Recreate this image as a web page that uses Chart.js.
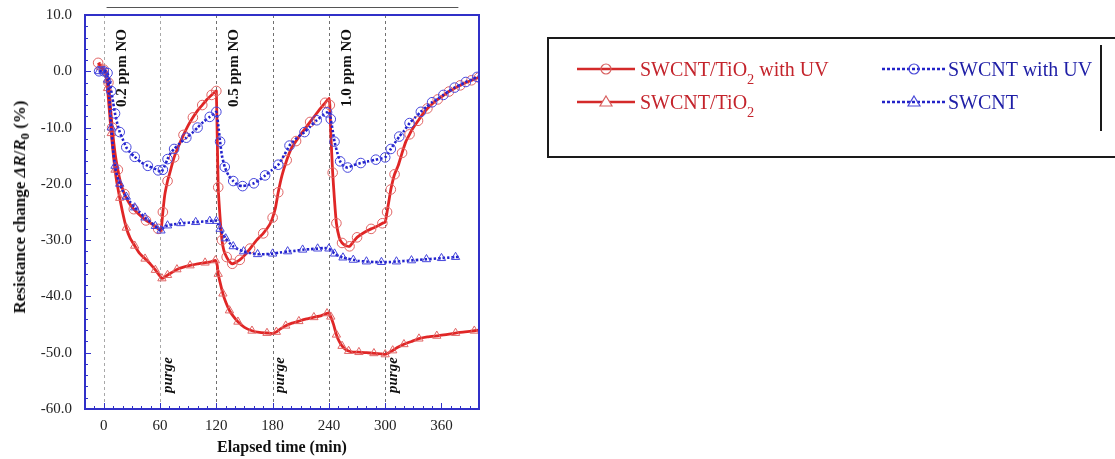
<!DOCTYPE html>
<html><head><meta charset="utf-8">
<script src="https://cdn.jsdelivr.net/npm/chart.js@4.4.1/dist/chart.umd.min.js"></script>
<style>
body{margin:0;background:#fff;}
#wrap{position:relative;width:1115px;height:459px;overflow:hidden;background:#fff;}
#c{position:absolute;left:0;top:0;}
#ytitle{position:absolute;left:20px;top:207px;transform:translate(-50%,-50%) rotate(-90deg);white-space:nowrap;font:bold 17px "Liberation Serif",serif;color:#111;}
#ytitle sub{font-size:0.75em;vertical-align:-0.3em;line-height:0;}
#legbox{position:absolute;left:547px;top:37px;width:600px;height:121px;border:2px solid #1a1a1a;box-sizing:border-box;}
#vbar{position:absolute;left:1100px;top:45px;width:2px;height:86px;background:#1a1a1a;}
.li{position:absolute;height:22px;white-space:nowrap;font:20px "Liberation Serif",serif;line-height:22px;}
.li sub{font-size:0.72em;vertical-align:-0.55em;line-height:0;}
.sw{position:absolute;}
</style>
</head><body>
<div id="wrap">
<canvas id="c" width="1115" height="459"></canvas>
<div id="ytitle">Resistance change <i>ΔR</i>/<i>R</i><sub>0</sub> (%)</div>
<div id="legbox"></div>
<div id="vbar"></div>
<svg class="sw" style="left:577px;top:59px" width="58" height="20"><line x1="0" y1="10" x2="58" y2="10" stroke="#d42a2a" stroke-width="2.5"/><circle cx="29" cy="10" r="5" fill="none" stroke="#d86060" stroke-width="1.2"/></svg>
<div class="li" style="left:640px;top:58px;color:#c4242c">SWCNT/TiO<sub>2</sub> with UV</div>
<svg class="sw" style="left:577px;top:92px" width="58" height="20"><line x1="0" y1="10" x2="58" y2="10" stroke="#d42a2a" stroke-width="2.5"/><polygon points="29,4 35,14 23,14" fill="#fff" stroke="#d86060" stroke-width="1.2"/></svg>
<div class="li" style="left:640px;top:91px;color:#c4242c">SWCNT/TiO<sub>2</sub></div>
<svg class="sw" style="left:882px;top:59px" width="64" height="20"><line x1="0" y1="10" x2="64" y2="10" stroke="#2323c8" stroke-width="2.5" stroke-dasharray="3,2"/><circle cx="32" cy="10" r="5" fill="none" stroke="#4a4ad8" stroke-width="1.2"/></svg>
<div class="li" style="left:948px;top:58px;color:#1e1ea6">SWCNT with UV</div>
<svg class="sw" style="left:882px;top:92px" width="64" height="20"><line x1="0" y1="10" x2="64" y2="10" stroke="#2323c8" stroke-width="2.5" stroke-dasharray="3,2"/><polygon points="32,4 38,14 26,14" fill="none" stroke="#4a4ad8" stroke-width="1.2"/></svg>
<div class="li" style="left:948px;top:91px;color:#1e1ea6">SWCNT</div>
</div>
<script>
// ---- data ----
const xTickValues = [0, 60, 120, 180, 240, 300, 360];
const yTickValues = [-60, -50, -40, -30, -20, -10, 0, 10];
const switchTimes = [0, 60, 120, 180, 240, 300];
const doseTimes = [0, 120, 240];
const doseLabels = ['0.2 ppm NO', '0.5 ppm NO', '1.0 ppm NO'];
const purgeTimes = [60, 180, 300];
const purgeLabel = 'purge';

const tTiO2UV = [-6,-3,0,3,5,7,9,12,15,18,22,27,32,38,45,52,58,61,63,65,68,70,75,80,85,90,95,100,105,110,115,119,120,121,122,124,126,128,131,134,137,140,145,150,156,163,170,177,180,183,186,190,195,200,205,210,220,230,236,240,241,242,244,246,248,251,254,258,262,266,270,278,285,292,297,300,302,304,306,308,310,314,318,322,326,330,335,340,345,350,356,362,368,374,380,386,392,398,400];
const vTiO2UV = [1.5,0.8,0.3,-0.2,-2,-6,-10,-14.5,-17.5,-19.8,-21.8,-23.4,-24.5,-25.5,-26.5,-27.2,-28,-28.3,-25,-22,-19.5,-18.3,-15.3,-13.2,-11.3,-9.6,-8.2,-7,-6,-5,-4.2,-3.6,-3.5,-12,-20.6,-26,-30,-31.8,-33,-33.8,-34.2,-34,-33.5,-32.7,-31.5,-30,-28.8,-27.2,-26,-24.3,-21.5,-18.5,-15.8,-13.7,-12.4,-11.2,-9,-6.8,-5.6,-4.8,-6,-11,-18,-23,-27,-29.5,-30.5,-31,-31.1,-30.3,-29.5,-28.6,-28,-27.5,-27,-26.8,-25,-23,-21,-19.5,-18.3,-16.7,-14.5,-12.5,-11.2,-10,-8.8,-7.6,-6.6,-5.8,-5,-4.3,-3.6,-3,-2.5,-2,-1.6,-1.2,-1.1];

const tTiO2 = [-4,-2,0,2,4,6,8,10,12,14,17,20,24,28,33,38,44,50,55,59,62,65,68,72,78,85,92,100,108,115,119,121,122,124,127,130,134,138,143,150,158,166,174,180,184,188,194,200,208,216,224,232,238,240,242,245,248,251,254,257,261,266,272,280,288,296,300,304,308,314,320,328,336,345,355,365,375,385,395,400];
const vTiO2 = [0.8,0.5,0.2,-0.5,-3,-7,-11,-14.5,-17.5,-19.8,-22.5,-25,-27.8,-29.6,-31,-32.3,-33.3,-34.3,-35.3,-36.2,-36.8,-36.6,-36.2,-35.8,-35.2,-34.8,-34.5,-34.2,-34,-33.8,-33.6,-34.5,-36,-37.5,-39.5,-41,-42.5,-43.5,-44.5,-45.5,-46.1,-46.4,-46.5,-46.6,-46.3,-45.8,-45.2,-44.8,-44.4,-44,-43.7,-43.4,-43,-42.9,-43.6,-45,-46.8,-48,-48.8,-49.3,-49.7,-49.9,-49.9,-50,-50.1,-50.2,-50.3,-50,-49.6,-49,-48.5,-48,-47.5,-47.2,-47,-46.8,-46.5,-46.3,-46.1,-46];

const tCNTUV = [-5,-2,0,2,4,6,8,10,12,14,17,20,24,28,33,40,47,54,58,61,63,65,68,71,75,81,88,94,100,106,113,118,120,122,124,126,129,133,138,143,148,154,160,166,172,179,186,192,198,206,214,220,227,233,238,240,242,244,246,249,252,256,260,266,274,282,290,296,300,303,306,310,315,320,326,332,338,344,350,356,362,368,374,380,386,392,398,400];
const vCNTUV = [0,0,0,0,-0.3,-1.5,-3.5,-5.5,-7.5,-9,-10.8,-12,-13.5,-14.4,-15.2,-16.2,-16.8,-17.3,-17.6,-17.9,-17.5,-16.8,-15.6,-14.6,-13.8,-12.8,-11.8,-11,-10,-9,-8.1,-7.5,-7.2,-9.5,-12.5,-15,-17,-18.5,-19.5,-20.2,-20.4,-20.2,-19.9,-19.3,-18.5,-17.6,-16.6,-15,-13.2,-11.8,-10.8,-9.8,-8.7,-7.9,-7.3,-7.1,-8.5,-10.5,-12.5,-14.5,-16,-16.9,-17.1,-16.7,-16.3,-16,-15.7,-15.5,-15.3,-14.6,-13.8,-12.8,-11.6,-10.6,-9.2,-8.2,-7.2,-6.3,-5.5,-4.9,-4.2,-3.5,-2.9,-2.4,-1.9,-1.5,-1,-0.9];

const tCNT = [-5,-2,0,2,4,6,8,10,12,14,17,20,24,28,33,38,44,50,55,59,61,64,68,75,82,90,98,106,113,118,120,122,124,127,130,134,138,143,149,156,164,172,180,188,196,204,212,220,228,235,240,243,246,250,255,260,266,272,280,288,296,304,312,320,328,336,344,352,360,368,375,380];
const vCNT = [0,0,0,-0.2,-1.5,-5,-10,-14,-16.8,-18.5,-20,-21.2,-22.3,-23.2,-24.2,-25,-26,-26.8,-27.5,-28.1,-28.3,-27.7,-27.4,-27.2,-27,-26.9,-26.8,-26.7,-26.6,-26.5,-26.6,-27.2,-28,-28.9,-29.7,-30.5,-31.1,-31.6,-32,-32.3,-32.5,-32.5,-32.4,-32.2,-32,-31.9,-31.7,-31.6,-31.5,-31.4,-31.5,-31.9,-32.4,-32.8,-33.1,-33.3,-33.5,-33.7,-33.8,-33.9,-33.9,-33.9,-33.8,-33.7,-33.6,-33.5,-33.4,-33.3,-33.2,-33.1,-33,-33];

// ---- styles ----
const RED = '#e02626', RED_M = '#e06464', BLUE = '#2222cc', BLUE_M = '#4646dc', AXIS = '#3030c8';
const SERIF = '"Liberation Serif", serif';
const pts = (t, v) => t.map((x, i) => ({x, y: v[i]}));
const mk = r => c => (c.index % 2 === 0 ? r : 0);

const datasets = [
  {label:'SWCNT with UV', data:pts(tCNTUV, vCNTUV), borderColor:BLUE, borderWidth:2.6, borderDash:[2.5,2], pointStyle:'circle', pointRadius:mk(4.8), pointBorderColor:BLUE_M, pointBorderWidth:1, pointBackgroundColor:'rgba(0,0,0,0)', tension:0.2},
  {label:'SWCNT', data:pts(tCNT, vCNT), borderColor:BLUE, borderWidth:2.6, borderDash:[2.5,2], pointStyle:'triangle', pointRadius:mk(4.8), pointBorderColor:BLUE_M, pointBorderWidth:1, pointBackgroundColor:'rgba(0,0,0,0)', tension:0.2},
  {label:'SWCNT/TiO2 with UV', data:pts(tTiO2UV, vTiO2UV), borderColor:RED, borderWidth:2.8, pointStyle:'circle', pointRadius:mk(4.8), pointBorderColor:RED_M, pointBorderWidth:1, pointBackgroundColor:'rgba(0,0,0,0)', tension:0.15},
  {label:'SWCNT/TiO2', data:pts(tTiO2, vTiO2), borderColor:RED, borderWidth:2.8, pointStyle:'triangle', pointRadius:mk(4.8), pointBorderColor:RED_M, pointBorderWidth:1, pointBackgroundColor:'rgba(0,0,0,0)', tension:0.15}
];

const deco = {
  id:'deco',
  beforeDatasetsDraw(chart){
    const {ctx, chartArea:a, scales:{x}} = chart;
    ctx.save();
    ctx.lineWidth = 1;
    ctx.setLineDash([3,3]);
    switchTimes.forEach(t => {
      const px = Math.round(x.getPixelForValue(t)) + 0.5;
      ctx.strokeStyle = (t === 0 || t === 60) ? '#a8a8a8' : '#707070';
      ctx.beginPath(); ctx.moveTo(px, a.top); ctx.lineTo(px, a.bottom); ctx.stroke();
    });
    ctx.restore();
  },
  afterDatasetsDraw(chart){
    const {ctx, chartArea:a, scales:{x, y}} = chart;
    ctx.save();
    ctx.strokeStyle = AXIS; ctx.lineWidth = 2; ctx.setLineDash([]);
    ctx.strokeRect(a.left, a.top, a.right - a.left, a.bottom - a.top);
    ctx.lineWidth = 1;
    ctx.beginPath();
    for (let t = -10; t <= 400; t += 10) {
      const px = Math.round(x.getPixelForValue(t)) + 0.5;
      const len = (t % 60 === 0) ? 6 : 3;
      ctx.moveTo(px, a.bottom); ctx.lineTo(px, a.bottom - len);
    }
    for (let v = -60; v <= 10; v += 2) {
      const py = Math.round(y.getPixelForValue(v)) + 0.5;
      const len = (v % 10 === 0) ? 6 : 3;
      ctx.moveTo(a.left, py); ctx.lineTo(a.left + len, py);
    }
    ctx.stroke();
    ctx.strokeStyle = '#555'; ctx.lineWidth = 1;
    ctx.beginPath();
    ctx.moveTo(x.getPixelForValue(3), a.top - 7.5); ctx.lineTo(x.getPixelForValue(378), a.top - 7.5);
    ctx.stroke();
    ctx.fillStyle = '#111';
    ctx.textBaseline = 'middle'; ctx.textAlign = 'left';
    ctx.font = 'bold 15px ' + SERIF;
    doseTimes.forEach((t, i) => {
      ctx.save();
      ctx.translate(x.getPixelForValue(t) + 18, a.top + 92);
      ctx.rotate(-Math.PI / 2);
      ctx.fillText(doseLabels[i], 0, 0);
      ctx.restore();
    });
    ctx.font = 'italic bold 15px ' + SERIF;
    purgeTimes.forEach(t => {
      ctx.save();
      ctx.translate(x.getPixelForValue(t) + 8, a.bottom - 16);
      ctx.rotate(-Math.PI / 2);
      ctx.fillText(purgeLabel, 0, 0);
      ctx.restore();
    });
    ctx.restore();
  }
};

new Chart(document.getElementById('c'), {
  type:'line',
  data:{datasets},
  plugins:[deco],
  options:{
    responsive:false, animation:false, devicePixelRatio:1,
    layout:{padding:{left:0, top:15, right:636, bottom:0}},
    plugins:{legend:{display:false}, tooltip:{enabled:false}},
    elements:{line:{fill:false}},
    scales:{
      x:{type:'linear', min:-20, max:400,
        afterBuildTicks:s => { s.ticks = xTickValues.map(v => ({value:v})); },
        afterFit:s => { s.height = 50; s.paddingLeft = 0; s.paddingRight = 0; },
        grid:{display:false, drawTicks:false}, border:{display:false},
        ticks:{padding:8, color:'#222', font:{family:SERIF, size:15}, maxRotation:0, autoSkip:false, callback:v => String(v)},
        title:{display:true, text:'Elapsed time (min)', color:'#111', font:{family:SERIF, size:16, weight:'bold', lineHeight:1.2}, padding:{top:0, bottom:2}}
      },
      y:{type:'linear', min:-60, max:10,
        afterBuildTicks:s => { s.ticks = yTickValues.map(v => ({value:v})); },
        afterFit:s => { s.width = 85; s.paddingTop = 0; s.paddingBottom = 0; },
        grid:{display:false, drawTicks:false}, border:{display:false},
        ticks:{padding:13, color:'#222', font:{family:SERIF, size:15}, autoSkip:false, callback:v => Number(v).toFixed(1)}
      }
    }
  }
});
</script>
</body></html>
